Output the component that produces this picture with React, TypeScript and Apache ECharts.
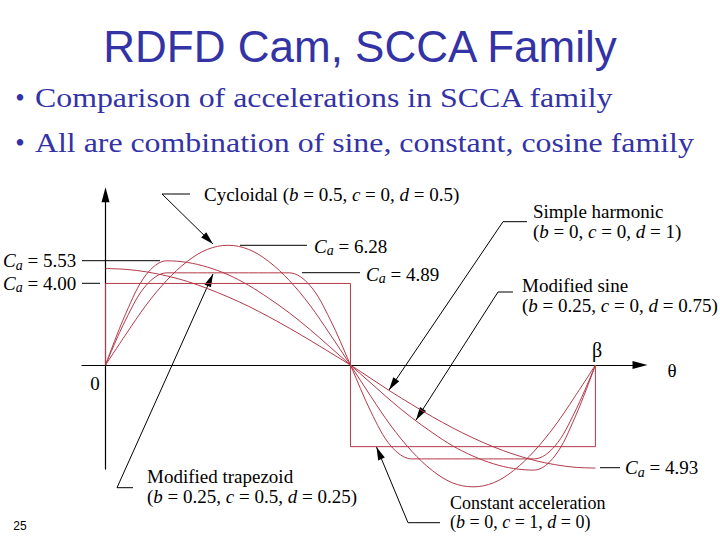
import React, { useEffect, useRef } from 'react';
import * as echarts from 'echarts';

// normalized cam angle (0 .. beta)
const thetaPoints = [0, 0.042, 0.083, 0.125, 0.167, 0.208, 0.25, 0.292, 0.333, 0.375, 0.417, 0.458, 0.5, 0.542, 0.583, 0.625, 0.667, 0.708, 0.75, 0.792, 0.833, 0.875, 0.917, 0.958, 1];
// acceleration curves as drawn (figure units)
const cycloidal = [0, 1.52, 2.94, 4.15, 5.08, 5.67, 5.87, 5.67, 5.08, 4.15, 2.94, 1.52, 0, -1.55, -2.99, -4.22, -5.17, -5.77, -5.97, -5.77, -5.17, -4.22, -2.99, -1.55, 0];
const simpleHarmonic = [4.73, 4.69, 4.57, 4.37, 4.1, 3.75, 3.34, 2.88, 2.37, 1.81, 1.22, 0.62, 0, -0.66, -1.31, -1.93, -2.53, -3.07, -3.57, -4.01, -4.37, -4.67, -4.88, -5.01, -5.05];
const modifiedSine = [0, 2.56, 4.43, 5.11, 5.03, 4.8, 4.43, 3.91, 3.28, 2.56, 1.75, 0.89, 0, -0.89, -1.76, -2.58, -3.31, -3.95, -4.46, -4.84, -5.07, -5.15, -4.46, -2.58, 0];
const modifiedTrapezoid = [0, 2.26, 3.91, 4.52, 4.52, 4.52, 4.52, 4.52, 4.52, 4.52, 3.91, 2.26, 0, -2.3, -3.98, -4.6, -4.6, -4.6, -4.6, -4.6, -4.6, -4.6, -3.98, -2.3, 0];
const constantX = [0, 0, 0.5, 0.5, 1, 1];
const constantAccel = [0, 4, 4, -4, -4, 0];

const TITLE = 'RDFD Cam, SCCA Family';
const BULLETS = ['Comparison of accelerations in SCCA family', 'All are combination of sine, constant, cosine family'];

const RED = '#b23a4a';
const BLUE = '#3333a6';
const INK = '#000000';
const SERIF = '"Liberation Serif", "Times New Roman", serif';
const SANS = '"Liberation Sans", Arial, sans-serif';

function richFor(fontSize: number, lineHeight?: number) {
  const lh = lineHeight ? { lineHeight } : {};
  return {
    i: { fontStyle: 'italic', fontFamily: SERIF, fontSize, fill: INK, ...lh },
    s: { fontStyle: 'italic', fontFamily: SERIF, fontSize: 14, fill: INK, padding: [9, 0, 0, 0] },
  };
}

function label(x: number, y: number, text: string, extra: any = {}) {
  const fontSize = extra.fontSize || 19;
  return {
    type: 'text',
    x,
    y,
    silent: true,
    style: {
      text,
      fill: INK,
      fontFamily: SERIF,
      fontSize,
      align: 'left',
      textAlign: 'left',
      verticalAlign: 'middle',
      textVerticalAlign: 'middle',
      rich: richFor(fontSize, extra.lineHeight),
      ...extra,
    },
  };
}

function seg(points: number[][]) {
  return {
    type: 'polyline',
    silent: true,
    shape: { points },
    style: { stroke: INK, lineWidth: 1, fill: null },
  };
}

function arrowHead(tip: number[], from: number[], len = 13, half = 3.6) {
  const dx = tip[0] - from[0];
  const dy = tip[1] - from[1];
  const d = Math.hypot(dx, dy);
  const ux = dx / d;
  const uy = dy / d;
  const bx = tip[0] - ux * len;
  const by = tip[1] - uy * len;
  return {
    type: 'polygon',
    silent: true,
    shape: { points: [tip, [bx - uy * half, by + ux * half], [bx + uy * half, by - ux * half]] },
    style: { fill: INK },
  };
}

function leader(points: number[][]) {
  const n = points.length;
  return [seg(points), arrowHead(points[n - 1], points[n - 2])];
}

export default function App() {
  const ref = useRef<HTMLDivElement>(null);
  useEffect(() => {
    const chart = echarts.init(ref.current as HTMLDivElement, null, { renderer: 'svg' });
    const curve = (name: string, ys: number[]) => ({
      type: 'line',
      name,
      data: thetaPoints.map((x, i) => [x, ys[i]]),
      symbol: 'none',
      showSymbol: false,
      smooth: 0.35,
      clip: false,
      silent: true,
      lineStyle: { color: RED, width: 1 },
      z: 3,
    });
    const axisCommon = {
      type: 'value',
      axisLine: {
        show: true,
        onZero: true,
        symbol: ['none', 'triangle'],
        symbolSize: [8, 15],
        lineStyle: { color: INK, width: 1.2 },
      },
      axisTick: { show: false },
      axisLabel: { show: false },
      splitLine: { show: false },
    };
    chart.setOption({
      animation: false,
      backgroundColor: '#ffffff',
      grid: { left: 82, right: 80, top: 194.7, bottom: 70.9, containLabel: false },
      xAxis: { ...axisCommon, min: -0.048, max: 1.091 },
      yAxis: { ...axisCommon, min: -5.1, max: 8.35 },
      series: [
        curve('Cycloidal', cycloidal),
        curve('Simple harmonic', simpleHarmonic),
        curve('Modified sine', modifiedSine),
        curve('Modified trapezoid', modifiedTrapezoid),
        {
          type: 'line',
          name: 'Constant acceleration',
          data: constantX.map((x, i) => [x, constantAccel[i]]),
          symbol: 'none',
          showSymbol: false,
          clip: false,
          silent: true,
          lineStyle: { color: RED, width: 1 },
          z: 3,
        },
      ],
      graphic: [
        {
          type: 'text', x: 360, y: 46, silent: true,
          style: { text: TITLE, fill: BLUE, fontFamily: SANS, fontSize: 44, align: 'center', textAlign: 'center', verticalAlign: 'middle', textVerticalAlign: 'middle' },
        },
        ...BULLETS.flatMap((b, i) => [
          {
            type: 'text', x: 20, y: 98 + i * 45, silent: true,
            style: { text: '•', fill: BLUE, fontFamily: SERIF, fontSize: 27, align: 'center', textAlign: 'center', verticalAlign: 'middle', textVerticalAlign: 'middle' },
          },
          {
            type: 'text', x: 35, y: 98 + i * 45, scaleX: 1.18, silent: true,
            style: { text: b, fill: BLUE, fontFamily: SERIF, fontSize: 27, align: 'left', textAlign: 'left', verticalAlign: 'middle', textVerticalAlign: 'middle' },
          },
        ]),
        // leader lines
        ...leader([[190, 194], [162, 194], [213, 244]]),
        seg([[240, 245.3], [307, 245.3]]),
        seg([[302, 272.7], [360, 272.7]]),
        seg([[82, 260.7], [160, 260.7]]),
        seg([[82, 283.3], [100, 283.3]]),
        ...leader([[527, 221.7], [503, 221.7], [389, 390]]),
        ...leader([[513, 292], [498, 292], [416, 420]]),
        ...leader([[133, 487.7], [117, 487.7], [213, 274]]),
        ...leader([[440, 522.7], [408, 522.7], [376.5, 447]]),
        seg([[600, 467.7], [620, 467.7]]),
        // labels
        label(204, 194, 'Cycloidal ({i|b} = 0.5, {i|c} = 0, {i|d} = 0.5)'),
        label(314, 246, '{i|C}{s|a} = 6.28'),
        label(366, 274, '{i|C}{s|a} = 4.89'),
        label(3, 260.7, '{i|C}{s|a} = 5.53'),
        label(3, 283.3, '{i|C}{s|a} = 4.00'),
        label(533, 221.4, 'Simple harmonic\n({i|b} = 0, {i|c} = 0, {i|d} = 1)', { lineHeight: 20.7 }),
        label(522, 295, 'Modified sine\n({i|b} = 0.25, {i|c} = 0, {i|d} = 0.75)', { lineHeight: 20 }),
        label(147, 486.7, 'Modified trapezoid\n({i|b} = 0.25, {i|c} = 0.5, {i|d} = 0.25)', { lineHeight: 20 }),
        label(450, 512.5, 'Constant acceleration\n({i|b} = 0, {i|c} = 1, {i|d} = 0)', { fontSize: 18, lineHeight: 19.5 }),
        label(625, 467.7, '{i|C}{s|a} = 4.93'),
        label(597, 350, 'β', { align: 'center', textAlign: 'center', fontSize: 20 }),
        label(672, 370, 'θ', { align: 'center', textAlign: 'center', fontSize: 19 }),
        label(95, 383, '0', { align: 'center', textAlign: 'center', fontSize: 19 }),
        label(20, 526, '25', { align: 'center', textAlign: 'center', fontSize: 12, fontFamily: SANS }),
      ],
    });
    return () => chart.dispose();
  }, []);
  return (
    <div
      ref={ref}
      style={{ position: 'fixed', left: 0, top: 0, width: 720, height: 540, background: '#ffffff' }}
    />
  );
}
